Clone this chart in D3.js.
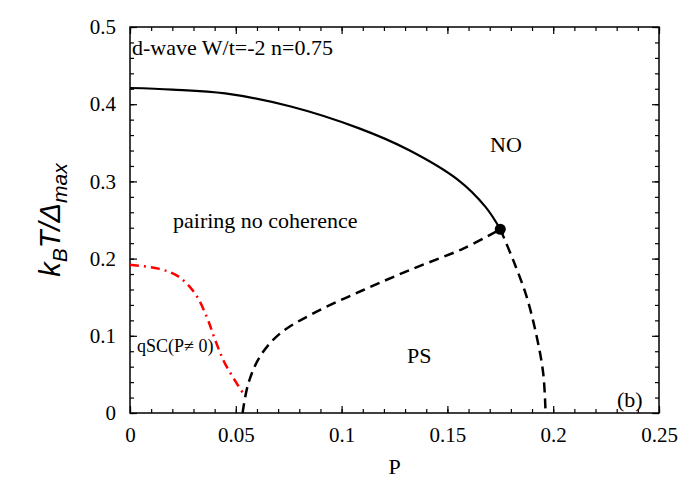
<!DOCTYPE html>
<html>
<head>
<meta charset="utf-8">
<script src="https://cdn.jsdelivr.net/npm/d3@7"></script>
<style>
  body { margin: 0; background: #fff; }
  svg text { font-family: "Liberation Serif", "Times New Roman", serif; fill: #000; }
  .axis path { display: none; }
  .axis line { stroke: #000; stroke-width: 1.2; }
</style>
</head>
<body>
<div id="vis"></div>
<script>

// phase boundaries (P, kT/Delta_max)
var solidP = [0, 0.02, 0.045, 0.076, 0.108, 0.1315, 0.155, 0.168, 0.175];
var solidT = [0.421, 0.419, 0.414, 0.397, 0.369, 0.341, 0.302, 0.267, 0.238];

var psLeftP = [0.0532, 0.0559, 0.0614, 0.0709, 0.0866, 0.110, 0.1338, 0.1575, 0.175];
var psLeftT = [0, 0.038, 0.073, 0.103, 0.129, 0.159, 0.187, 0.213, 0.238];

var psRightP = [0.175, 0.1811, 0.1874, 0.1922, 0.1953, 0.1964];
var psRightT = [0.238, 0.198, 0.151, 0.099, 0.051, 0];

var qscP = [0, 0.0134, 0.0228, 0.0307, 0.0362, 0.0402, 0.0449, 0.0536];
var qscT = [0.192, 0.187, 0.177, 0.155, 0.125, 0.095, 0.064, 0.025];

var critical = [0.175, 0.238];

var xTicks = [0, 0.05, 0.1, 0.15, 0.2, 0.25];
var xTickLabels = ['0', '0.05', '0.1', '0.15', '0.2', '0.25'];
var yTicks = [0, 0.1, 0.2, 0.3, 0.4, 0.5];
var yTickLabels = ['0', '0.1', '0.2', '0.3', '0.4', '0.5'];

function phaseDiagram() {

    var width = 685;
    var height = 480;
    var mLeft = 130, mRight = 659, mTop = 27, mBottom = 413;

    var svg = d3.select('#vis').append('svg')
        .attr('width', width)
        .attr('height', height);

    var x = d3.scaleLinear().domain([0, 0.25]).range([mLeft, mRight]);
    var y = d3.scaleLinear().domain([0, 0.5]).range([mBottom, mTop]);

    var xMinor = d3.range(0, 0.2501, 0.01);
    var yMinor = d3.range(0, 0.5001, 0.02);

    function noLabel() { return ''; }

    // minor ticks, all four sides, pointing inward
    svg.append('g').attr('class', 'axis').attr('transform', 'translate(0,' + mBottom + ')')
        .call(d3.axisBottom(x).tickValues(xMinor).tickSize(-4).tickFormat(noLabel));
    svg.append('g').attr('class', 'axis').attr('transform', 'translate(0,' + mTop + ')')
        .call(d3.axisTop(x).tickValues(xMinor).tickSize(-4).tickFormat(noLabel));
    svg.append('g').attr('class', 'axis').attr('transform', 'translate(' + mLeft + ',0)')
        .call(d3.axisLeft(y).tickValues(yMinor).tickSize(-4).tickFormat(noLabel));
    svg.append('g').attr('class', 'axis').attr('transform', 'translate(' + mRight + ',0)')
        .call(d3.axisRight(y).tickValues(yMinor).tickSize(-4).tickFormat(noLabel));

    // major ticks
    svg.append('g').attr('class', 'axis').attr('transform', 'translate(0,' + mBottom + ')')
        .call(d3.axisBottom(x).tickValues(xTicks).tickSize(-7).tickPadding(14)
            .tickFormat(function (d, i) { return xTickLabels[i]; }));
    svg.append('g').attr('class', 'axis').attr('transform', 'translate(0,' + mTop + ')')
        .call(d3.axisTop(x).tickValues(xTicks).tickSize(-7).tickFormat(noLabel));
    svg.append('g').attr('class', 'axis').attr('transform', 'translate(' + mLeft + ',0)')
        .call(d3.axisLeft(y).tickValues(yTicks).tickSize(-7).tickPadding(14)
            .tickFormat(function (d, i) { return yTickLabels[i]; }));
    svg.append('g').attr('class', 'axis').attr('transform', 'translate(' + mRight + ',0)')
        .call(d3.axisRight(y).tickValues(yTicks).tickSize(-7).tickFormat(noLabel));

    svg.selectAll('.axis')
        .attr('font-family', '"Liberation Serif", serif')
        .attr('font-size', 21);
    svg.selectAll('.axis text')
        .style('font-family', '"Liberation Serif", serif')
        .style('font-size', '21px');

    // frame
    svg.append('rect')
        .attr('x', mLeft).attr('y', mTop)
        .attr('width', mRight - mLeft).attr('height', mBottom - mTop)
        .attr('fill', 'none').attr('stroke', '#000').attr('stroke-width', 1.5);

    function pairs(ps, ts) {
        return ps.map(function (p, i) { return [p, ts[i]]; });
    }

    var line = d3.line()
        .x(function (d) { return x(d[0]); })
        .y(function (d) { return y(d[1]); })
        .curve(d3.curveCatmullRom.alpha(0.5));

    svg.append('path')
        .attr('d', line(pairs(solidP, solidT)))
        .attr('fill', 'none').attr('stroke', '#000').attr('stroke-width', 2.2);

    svg.append('path')
        .attr('d', line(pairs(psLeftP, psLeftT)))
        .attr('fill', 'none').attr('stroke', '#000').attr('stroke-width', 2.5)
        .attr('stroke-dasharray', '10,6');

    svg.append('path')
        .attr('d', line(pairs(psRightP, psRightT)))
        .attr('fill', 'none').attr('stroke', '#000').attr('stroke-width', 2.5)
        .attr('stroke-dasharray', '10,6');

    svg.append('path')
        .attr('d', line(pairs(qscP, qscT)))
        .attr('fill', 'none').attr('stroke', '#ff0000').attr('stroke-width', 2.5)
        .attr('stroke-dasharray', '9,5,2,5');

    svg.append('circle')
        .attr('cx', x(critical[0])).attr('cy', y(critical[1]))
        .attr('r', 5.5).attr('fill', '#000');

    // annotations
    var notes = [
        { t: 'd-wave W/t=-2 n=0.75', x: 132, y: 55, s: 22 },
        { t: 'NO', x: 490, y: 152, s: 22 },
        { t: 'pairing no coherence', x: 173, y: 228, s: 22 },
        { t: 'PS', x: 407, y: 363, s: 22 },
        { t: 'qSC(P\u2260 0)', x: 137, y: 352, s: 18 },
        { t: '(b)', x: 617, y: 407, s: 22 }
    ];
    svg.selectAll('.note')
        .data(notes)
        .enter().append('text')
        .attr('class', 'note')
        .attr('x', function (d) { return d.x; })
        .attr('y', function (d) { return d.y; })
        .style('font-size', function (d) { return d.s + 'px'; })
        .text(function (d) { return d.t; });

    // axis titles
    svg.append('text')
        .attr('x', x(0.125)).attr('y', 474)
        .attr('text-anchor', 'middle')
        .style('font-size', '22px')
        .text('P');

    var ylab = svg.append('text')
        .attr('transform', 'translate(60,220) rotate(-90)')
        .attr('text-anchor', 'middle')
        .style('font-family', '"Liberation Sans", Arial, sans-serif')
        .style('font-style', 'italic')
        .style('font-size', '29px');
    ylab.append('tspan').text('k');
    ylab.append('tspan').attr('dy', 7).style('font-size', '21px').text('B');
    ylab.append('tspan').attr('dy', -7).text('T/\u0394');
    ylab.append('tspan').attr('dy', 7).style('font-size', '21px').text('max');
}

phaseDiagram();

</script>
</body>
</html>
